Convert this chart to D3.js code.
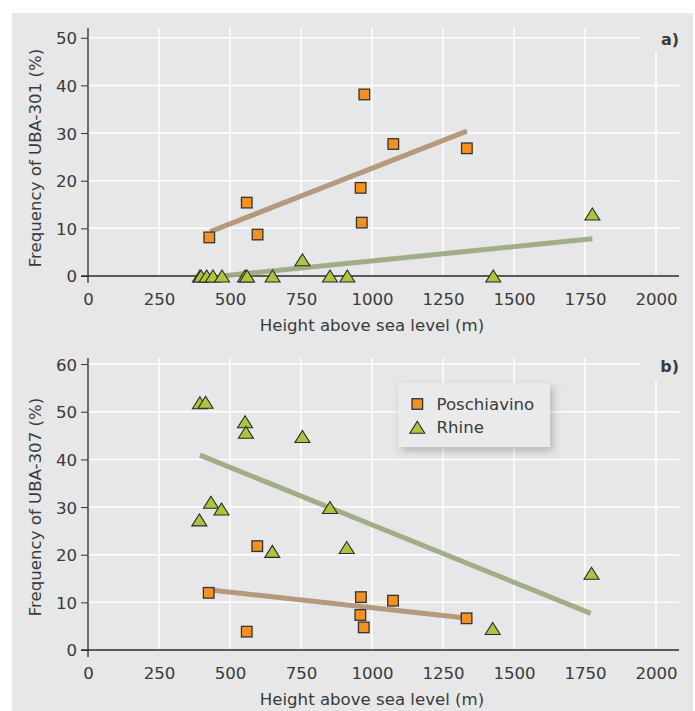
<!DOCTYPE html>
<html><head><meta charset="utf-8">
<script src="https://cdn.jsdelivr.net/npm/d3@7"></script>
<style>
html,body{margin:0;padding:0;background:#fff;}
svg{display:block;}
text{font-family:"DejaVu Sans",sans-serif;fill:#3a3a3a;}
</style></head>
<body>
<script>
// ---------- data ----------
const xTicks = [0, 250, 500, 750, 1000, 1250, 1500, 1750, 2000];
const yTicksA = [0, 10, 20, 30, 40, 50];
const yTicksB = [0, 10, 20, 30, 40, 50, 60];
const seriesNames = ["Poschiavino", "Rhine"];

// panel a) UBA-301
const poschHeightA = [427, 559, 597, 973, 1075, 1334, 960, 964];
const poschFreqA   = [8.1, 15.4, 8.7, 38.1, 27.7, 26.8, 18.5, 11.2];
const rhineHeightA = [394, 398, 418, 440, 472, 553, 560, 650, 755, 852, 913, 1427, 1776];
const rhineFreqA   = [0, 0, 0, 0, 0, 0, 0, 0, 3.4, 0, 0, 0, 13.0];
const poschTrendA  = [[430, 9.3], [1334, 30.4]];
const rhineTrendA  = [[470, 0], [1776, 7.8]];

// panel b) UBA-307
const poschHeightB = [425, 559, 596, 961, 959, 971, 1074, 1333];
const poschFreqB   = [12.0, 3.85, 21.8, 11.1, 7.35, 4.75, 10.35, 6.65];
const rhineHeightB = [394, 414, 553, 556, 755, 433, 470, 392, 649, 852, 911, 1773, 1425];
const rhineFreqB   = [51.9, 52.0, 47.9, 45.7, 44.8, 31.0, 29.6, 27.3, 20.7, 29.9, 21.5, 16.1, 4.5];
const poschTrendB  = [[430, 12.6], [1330, 6.7]];
const rhineTrendB  = [[394, 40.9], [1770, 7.7]];

// ---------- styles ----------
const W = 695, H = 711;
const bg = "#e6e7e8";
const orange = "#f7901e", green = "#a8c83c";
const tan = "#b39474", sage = "#9aab7f";
const fs = 16.6;

const svg = d3.select("body").append("svg").attr("width", W).attr("height", H);
const defs = svg.append("defs");
const f = defs.append("filter").attr("id", "shadow").attr("x", "-20%").attr("y", "-30%").attr("width", "150%").attr("height", "180%");
f.append("feDropShadow").attr("dx", 3).attr("dy", 4).attr("stdDeviation", 4).attr("flood-color", "#000").attr("flood-opacity", 0.22);

svg.append("rect").attr("x", 12).attr("y", 13).attr("width", 681).attr("height", 698).attr("fill", bg);

const triPath = "M0,-6L7.5,6L-7.5,6Z";

function panel(opt) {
  const x = d3.scaleLinear().domain([0, 2000]).range([88, 656]);
  const y = d3.scaleLinear().domain([0, opt.ymax]).range([opt.y0, opt.y0 - opt.ymax * 4.765]);
  const g = svg.append("g");
  const axisTop = opt.axisTop;
  const xRight = 679;

  // vertical gridlines
  g.selectAll(".vg").data(xTicks.filter(d => d > 0)).join("line")
    .attr("x1", d => x(d)).attr("x2", d => x(d))
    .attr("y1", d => d === 2000 ? axisTop + 23 : axisTop).attr("y2", opt.y0)
    .attr("stroke", "#fff").attr("stroke-width", 1.5);
  // horizontal gridlines
  g.selectAll(".hg").data(opt.yTicks.filter(d => d > 0)).join("line")
    .attr("x1", x(0)).attr("x2", d => d === opt.ymax ? 640 : xRight)
    .attr("y1", d => y(d)).attr("y2", d => y(d))
    .attr("stroke", "#fff").attr("stroke-width", 1.5);

  // y axis (d3 axis for ticks/labels)
  const yAxis = d3.axisLeft(y).tickValues(opt.yTicks).tickSize(7).tickPadding(4).tickFormat(d3.format("d"));
  const ya = g.append("g").attr("transform", `translate(${x(0)},0)`).call(yAxis);
  ya.select(".domain").remove();
  ya.selectAll(".tick line").attr("stroke", "#333").attr("stroke-width", 1);
  ya.selectAll(".tick text").attr("font-size", fs).attr("font-family", "DejaVu Sans").attr("fill", "#3a3a3a").attr("dy", "0.36em");

  // x axis labels
  const xAxis = d3.axisBottom(x).tickValues(xTicks).tickSize(0).tickPadding(17).tickFormat(d3.format("d"));
  const xa = g.append("g").attr("transform", `translate(0,${opt.y0})`).call(xAxis);
  xa.select(".domain").remove();
  xa.selectAll(".tick text").attr("font-size", fs).attr("font-family", "DejaVu Sans").attr("fill", "#3a3a3a");

  // axis lines
  g.append("line").attr("x1", x(0) - 7).attr("x2", xRight).attr("y1", opt.y0).attr("y2", opt.y0)
    .attr("stroke", "#2a2a2a").attr("stroke-width", 1.3);
  g.append("line").attr("x1", x(0)).attr("x2", x(0)).attr("y1", axisTop).attr("y2", opt.y0 + 7)
    .attr("stroke", "#2a2a2a").attr("stroke-width", 1.3);

  // titles
  g.append("text").attr("x", x(1000)).attr("y", opt.y0 + 55).attr("text-anchor", "middle")
    .attr("font-size", fs).text("Height above sea level (m)");
  g.append("text").attr("transform", `translate(41,${opt.titleY}) rotate(-90)`).attr("text-anchor", "middle")
    .attr("font-size", fs).text(opt.ytitle);
  g.append("text").attr("x", 679).attr("y", opt.labelY).attr("text-anchor", "end")
    .attr("font-size", 16).attr("font-weight", "bold").attr("fill", "#222").text(opt.label);

  // trend lines
  const line = d3.line().x(d => x(d[0])).y(d => y(d[1]));
  g.append("path").attr("d", line(opt.rTrend)).attr("stroke", sage).attr("stroke-width", 5).attr("fill", "none").attr("opacity", 0.95);
  g.append("path").attr("d", line(opt.pTrend)).attr("stroke", tan).attr("stroke-width", 5).attr("fill", "none").attr("opacity", 0.95);

  // Rhine triangles
  g.selectAll(".tri").data(opt.rH.map((h, i) => [h, opt.rF[i]])).join("path")
    .attr("d", triPath).attr("transform", d => `translate(${x(d[0])},${y(d[1])})`)
    .attr("fill", green).attr("stroke", "#2a2a2a").attr("stroke-width", 1.1).attr("stroke-linejoin", "miter");
  // Poschiavino squares
  g.selectAll(".sq").data(opt.pH.map((h, i) => [h, opt.pF[i]])).join("rect")
    .attr("x", d => x(d[0]) - 5.3).attr("y", d => y(d[1]) - 5.3).attr("width", 10.6).attr("height", 10.6)
    .attr("fill", orange).attr("stroke", "#333").attr("stroke-width", 1.3);
}

panel({ ymax: 50, y0: 276, axisTop: 28, yTicks: yTicksA, titleY: 158, labelY: 45, label: "a)",
  ytitle: "Frequency of UBA-301 (%)",
  pH: poschHeightA, pF: poschFreqA, rH: rhineHeightA, rF: rhineFreqA, pTrend: poschTrendA, rTrend: rhineTrendA });
panel({ ymax: 60, y0: 650, axisTop: 358, yTicks: yTicksB, titleY: 507, labelY: 372, label: "b)",
  ytitle: "Frequency of UBA-307 (%)",
  pH: poschHeightB, pF: poschFreqB, rH: rhineHeightB, rF: rhineFreqB, pTrend: poschTrendB, rTrend: rhineTrendB });

// legend
const lg = svg.append("g");
lg.append("rect").attr("x", 398).attr("y", 383).attr("width", 152).attr("height", 64)
  .attr("fill", "#e9eaeb").attr("filter", "url(#shadow)");
lg.append("rect").attr("x", 412).attr("y", 398.7).attr("width", 10.6).attr("height", 10.6)
  .attr("fill", orange).attr("stroke", "#333").attr("stroke-width", 1.3);
lg.append("path").attr("d", triPath).attr("transform", "translate(417.3,427.3)")
  .attr("fill", green).attr("stroke", "#2a2a2a").attr("stroke-width", 1.1);
lg.selectAll(".lt").data(seriesNames).join("text")
  .attr("x", 436.5).attr("y", (d, i) => 404 + i * 23.3).attr("dy", "0.36em")
  .attr("font-size", fs).text(d => d);
</script>
</body></html>
